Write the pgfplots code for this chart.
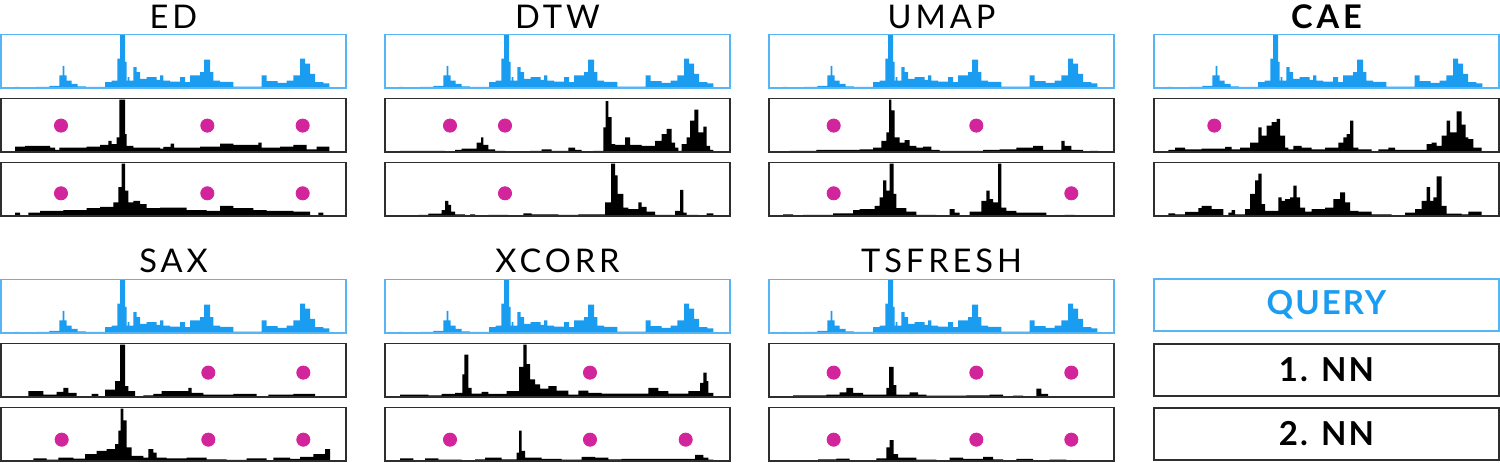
\documentclass[border=0pt]{standalone}
\usepackage{pgfplots}
\pgfplotsset{compat=1.18}
\usepackage{pgfplotstable}
\usepackage{fontspec}
\setmainfont{Lato}
\newfontfamily\titlefont{Lato}[LetterSpace=12.0]
\newfontfamily\legfont{Lato}[LetterSpace=6.0]
\definecolor{qblue}{HTML}{1A9CF0}
\definecolor{qbox}{HTML}{58B5F5}
\definecolor{dotc}{HTML}{D2259B}
\definecolor{nnbox}{HTML}{2E2E2E}

% query (x in ED-panel units, box 3..1038)
\pgfplotstableread{
x h
45 3
58 1
63 2
108 3
148 6
178 37
188 65
193 37
200 22
215 12
233 5
258 2
262 3
315 17
335 22
352 87
360 158
375 77
380 22
383 32
388 22
400 62
410 47
420 27
440 32
470 24
480 37
490 22
510 19
540 32
555 17
570 37
600 47
612 84
630 47
640 22
660 18
700 4
785 37
800 20
833 15
860 22
880 37
900 87
915 72
930 42
945 17
970 14
988 0
}\tQ

\pgfplotstableread{
x h
45 16
75 18
150 13
165 6
178 13
260 16
300 21
325 33
335 23
350 43
358 155
375 53
380 18
400 13
480 10
490 15
512 25
522 13
600 16
660 25
700 21
775 28
785 13
840 16
880 21
920 8
950 16
988 0
}\tEDa
\pgfplotstableread{
x h
45 10
60 2
85 10
120 15
190 17
260 23
300 27
340 40
355 85
365 155
375 75
385 40
400 45
420 35
440 23
480 25
560 17
620 15
660 30
700 23
760 17
800 15
880 13
930 0
955 10
970 0
}\tEDb

\pgfplotstableread{
x h
75 3
140 3
210 0
240 6
260 10
305 28
318 43
325 21
340 8
360 3
390 0
465 3
500 8
530 3
580 13
600 6
620 0
655 3
685 73
692 150
700 103
710 23
720 21
750 43
765 21
800 18
840 33
860 53
875 68
890 28
900 13
910 3
920 23
935 43
945 93
958 125
970 58
985 75
995 18
1005 6
1015 0
}\tDTWa
\pgfplotstableread{
x h
80 2
130 3
160 7
200 17
210 45
220 33
228 13
240 5
270 0
285 5
300 0
340 3
400 0
445 8
470 5
550 3
610 5
690 40
708 155
720 120
728 65
745 25
760 20
790 40
800 27
815 13
840 3
900 15
915 77
925 10
935 3
970 0
995 8
1015 0
}\tDTWb

\pgfplotstableread{
x h
120 3
200 6
330 8
370 13
395 33
410 58
418 155
425 123
435 43
450 28
465 35
480 18
500 13
520 16
545 6
570 3
700 6
750 8
800 13
850 18
880 6
935 33
945 18
965 6
1000 0
1020 3
1045 0
}\tUMAPa
\pgfplotstableread{
x h
100 5
130 2
160 3
250 8
310 17
330 20
375 30
390 55
400 105
410 75
420 155
432 65
440 23
470 13
500 3
560 0
600 20
615 10
630 2
660 13
695 45
710 75
720 50
730 40
745 155
755 25
770 15
800 10
890 0
945 3
975 0
}\tUMAPb

\pgfplotstableread{
x h
130 6
150 13
180 8
230 10
300 15
320 8
345 13
375 28
400 73
410 48
425 78
440 88
455 98
465 48
480 13
490 8
505 18
530 13
560 8
600 13
640 28
655 43
665 53
675 93
685 13
700 8
740 1
760 8
790 13
810 6
905 23
920 28
935 18
950 48
965 93
975 58
995 120
1010 81
1022 43
1030 38
1045 13
1070 0
}\tCAEa
\pgfplotstableread{
x h
130 8
150 5
180 12
220 23
230 30
260 20
295 0
310 10
320 17
330 5
360 20
375 65
390 105
400 125
410 35
420 15
460 55
470 45
480 50
495 55
505 90
515 55
525 25
540 13
560 20
600 25
625 50
645 70
660 40
675 15
700 13
740 5
800 0
840 10
870 20
890 45
905 85
915 45
925 55
935 117
950 30
965 7
1010 5
1030 13
1070 0
}\tCAEb

\pgfplotstableread{
x h
45 2
85 17
130 7
170 15
190 27
205 12
230 2
275 9
295 2
315 22
345 47
360 155
375 32
385 17
405 2
430 5
460 9
485 17
565 27
575 12
610 7
700 9
770 2
805 7
880 9
945 0
}\tSAXa
\pgfplotstableread{
x h
45 2
100 8
140 4
175 10
220 7
255 20
290 30
320 35
345 50
355 90
362 155
370 120
380 40
395 15
430 10
445 35
460 25
470 10
500 8
560 10
620 5
680 3
740 8
800 2
820 10
870 6
900 12
940 20
975 35
990 0
}\tSAXb

\pgfplotstableread{
x h
75 7
160 5
200 9
240 12
262 67
268 125
280 27
290 10
320 15
340 9
395 17
432 89
445 155
455 97
465 52
480 37
495 25
520 32
545 19
580 7
610 19
640 12
680 10
820 27
850 17
880 10
940 17
975 42
985 72
995 47
1000 12
1015 0
}\tXCa
\pgfplotstableread{
x h
75 8
115 0
150 8
190 4
260 0
300 5
330 10
380 5
425 25
432 90
440 30
450 10
500 6
560 4
620 12
660 10
700 5
740 6
960 18
985 10
1000 4
1015 0
}\tXCb

\pgfplotstableread{
x h
100 2
130 5
230 7
270 14
290 27
310 12
340 7
410 27
418 89
432 35
440 7
480 14
505 7
530 4
650 5
720 7
760 2
790 4
820 0
860 25
875 9
895 0
}\tTSa
\pgfplotstableread{
x h
100 2
110 0
205 5
260 7
300 2
380 8
410 40
420 62
432 20
445 10
500 4
560 2
600 10
640 6
700 12
730 5
760 2
800 6
850 2
900 4
950 2
1000 0
}\tTSb

\pgfplotsset{
  panel/.style={scale only axis, width=172.5pt, height=26.75pt,
    ymin=0, ymax=158, xtick=\empty, ytick=\empty, anchor=south west,
    axis on top, clip=true},
  qpanel/.style={panel, xmin=3, xmax=1038, axis line style={qbox, line width=0.75pt}},
  nnpanel/.style={panel, axis line style={nnbox, line width=0.75pt}},
  bars/.style={const plot mark left, fill=black, draw=none},
  qbars/.style={const plot mark left, fill=qblue, draw=none},
  dots/.style={only marks, mark=*, mark size=3.3pt, color=dotc, mark options={draw=none, fill=dotc}},
  legbox/.style={scale only axis, width=172.5pt, height=26pt, xmin=0, xmax=1, ymin=0, ymax=1,
    xtick=\empty, ytick=\empty, anchor=south west},
}
\newcommand\tfont{\titlefont\fontsize{16.3pt}{19pt}\selectfont}

\begin{document}
\begin{tikzpicture}
\path[use as bounding box] (0,0) rectangle (750pt,231pt);

% ---------- ED ----------
\begin{axis}[qpanel, at={(0.5pt,187pt)}]
\addplot[qbars] table {\tQ} \closedcycle;
\end{axis}
\begin{axis}[nnpanel, at={(0.5pt,155pt)}, xmin=3, xmax=1038]
\addplot[bars] table {\tEDa} \closedcycle;
\addplot[dots] coordinates {(183,78) (622,78) (908,78)};
\end{axis}
\begin{axis}[nnpanel, at={(0.5pt,123pt)}, xmin=3, xmax=1038]
\addplot[bars] table {\tEDb} \closedcycle;
\addplot[dots] coordinates {(183,67) (622,67) (908,67)};
\end{axis}

% ---------- DTW ----------
\begin{axis}[qpanel, at={(192.5pt,187pt)}]
\addplot[qbars] table {\tQ} \closedcycle;
\end{axis}
\begin{axis}[nnpanel, at={(192.5pt,155pt)}, xmin=30, xmax=1065]
\addplot[bars] table {\tDTWa} \closedcycle;
\addplot[dots] coordinates {(225,78) (390,78)};
\end{axis}
\begin{axis}[nnpanel, at={(192.5pt,123pt)}, xmin=30, xmax=1065]
\addplot[bars] table {\tDTWb} \closedcycle;
\addplot[dots] coordinates {(390,67)};
\end{axis}

% ---------- UMAP ----------
\begin{axis}[qpanel, at={(384.5pt,187pt)}]
\addplot[qbars] table {\tQ} \closedcycle;
\end{axis}
\begin{axis}[nnpanel, at={(384.5pt,155pt)}, xmin=58, xmax=1093]
\addplot[bars] table {\tUMAPa} \closedcycle;
\addplot[dots] coordinates {(252,78) (680,78)};
\end{axis}
\begin{axis}[nnpanel, at={(384.5pt,123pt)}, xmin=58, xmax=1093]
\addplot[bars] table {\tUMAPb} \closedcycle;
\addplot[dots] coordinates {(252,67) (965,67)};
\end{axis}

% ---------- CAE ----------
\begin{axis}[qpanel, at={(577pt,187pt)}]
\addplot[qbars] table {\tQ} \closedcycle;
\end{axis}
\begin{axis}[nnpanel, at={(577pt,155pt)}, xmin=87, xmax=1122]
\addplot[bars] table {\tCAEa} \closedcycle;
\addplot[dots] coordinates {(268,78)};
\end{axis}
\begin{axis}[nnpanel, at={(577pt,123pt)}, xmin=87, xmax=1122]
\addplot[bars] table {\tCAEb} \closedcycle;
\end{axis}

% ---------- SAX ----------
\begin{axis}[qpanel, at={(0.5pt,64.5pt)}]
\addplot[qbars] table {\tQ} \closedcycle;
\end{axis}
\begin{axis}[nnpanel, at={(0.5pt,32.5pt)}, xmin=3, xmax=1038]
\addplot[bars] table {\tSAXa} \closedcycle;
\addplot[dots] coordinates {(625,72) (910,72)};
\end{axis}
\begin{axis}[nnpanel, at={(0.5pt,0.5pt)}, xmin=3, xmax=1038]
\addplot[bars] table {\tSAXb} \closedcycle;
\addplot[dots] coordinates {(185,63) (625,63) (910,63)};
\end{axis}

% ---------- XCORR ----------
\begin{axis}[qpanel, at={(192.5pt,64.5pt)}]
\addplot[qbars] table {\tQ} \closedcycle;
\end{axis}
\begin{axis}[nnpanel, at={(192.5pt,32.5pt)}, xmin=30, xmax=1065]
\addplot[bars] table {\tXCa} \closedcycle;
\addplot[dots] coordinates {(645,72)};
\end{axis}
\begin{axis}[nnpanel, at={(192.5pt,0.5pt)}, xmin=30, xmax=1065]
\addplot[bars] table {\tXCb} \closedcycle;
\addplot[dots] coordinates {(225,63) (645,63) (932,63)};
\end{axis}

% ---------- TSFRESH ----------
\begin{axis}[qpanel, at={(384.5pt,64.5pt)}]
\addplot[qbars] table {\tQ} \closedcycle;
\end{axis}
\begin{axis}[nnpanel, at={(384.5pt,32.5pt)}, xmin=58, xmax=1093]
\addplot[bars] table {\tTSa} \closedcycle;
\addplot[dots] coordinates {(252,72) (680,72) (965,72)};
\end{axis}
\begin{axis}[nnpanel, at={(384.5pt,0.5pt)}, xmin=58, xmax=1093]
\addplot[bars] table {\tTSb} \closedcycle;
\addplot[dots] coordinates {(252,63) (680,63) (965,63)};
\end{axis}

% ---------- titles ----------
\node[anchor=base, font=\tfont] at (86.75pt,217pt) {ED};
\node[anchor=base, font=\tfont] at (278.75pt,217pt) {DTW};
\node[anchor=base, font=\tfont] at (470.75pt,217pt) {UMAP};
\node[anchor=base, font=\tfont\bfseries] at (663.25pt,217pt) {CAE};
\node[anchor=base, font=\tfont] at (86.75pt,95pt) {SAX};
\node[anchor=base, font=\tfont] at (278.75pt,95pt) {XCORR};
\node[anchor=base, font=\tfont] at (470.75pt,95pt) {TSFRESH};

% ---------- legend ----------
\begin{axis}[legbox, at={(577pt,65.5pt)}, axis line style={qbox, line width=0.75pt}]
\node[font=\legfont\bfseries\fontsize{16.5pt}{19pt}\selectfont, text=qblue] at (rel axis cs:0.5,0.5) {QUERY};
\end{axis}
\begin{axis}[legbox, at={(577pt,33pt)}, axis line style={nnbox, line width=0.75pt}]
\node[font=\legfont\bfseries\fontsize{16.5pt}{19pt}\selectfont, text=black] at (rel axis cs:0.5,0.5) {1. NN};
\end{axis}
\begin{axis}[legbox, at={(577pt,1pt)}, axis line style={nnbox, line width=0.75pt}]
\node[font=\legfont\bfseries\fontsize{16.5pt}{19pt}\selectfont, text=black] at (rel axis cs:0.5,0.5) {2. NN};
\end{axis}
\end{tikzpicture}
\end{document}
